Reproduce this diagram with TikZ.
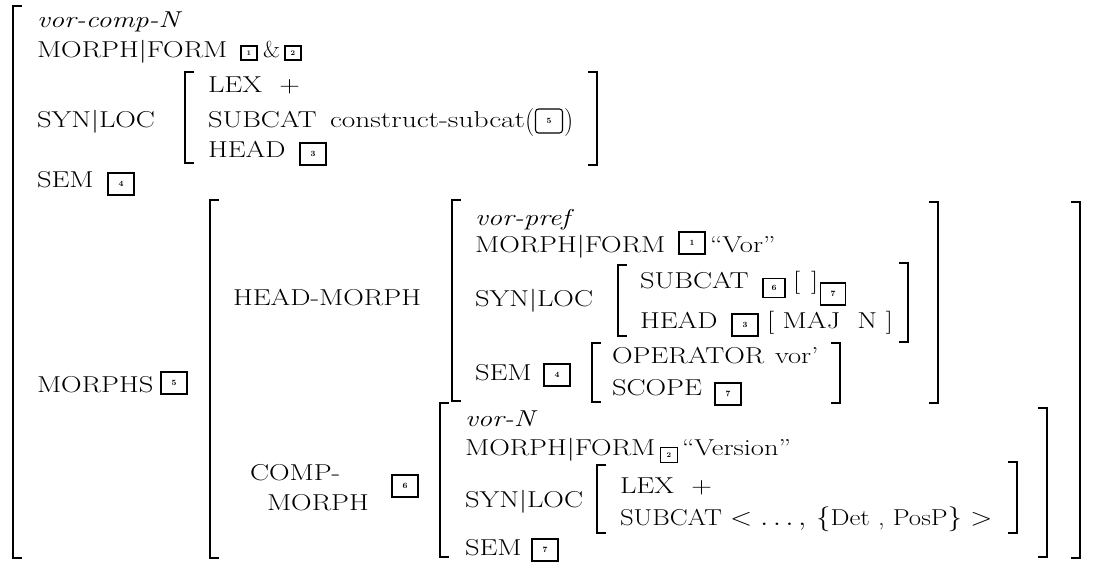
\documentclass[tikz,border=0pt]{standalone}
\usepackage{fontspec}
\begin{document}
\begin{tikzpicture}[x=1pt,y=-1pt,
  t/.style={anchor=base west,inner sep=0pt,outer sep=0pt,font=\fontsize{23}{27}\selectfont,xscale=1.24},
  it/.style={t,font=\fontsize{23}{27}\selectfont\itshape},
  cs/.style={t,xscale=1.03},
  bx/.style={draw,line width=1.1pt,inner sep=0pt,minimum width=26pt,minimum height=22pt,font=\fontsize{8}{8}\selectfont\bfseries},
  sbx/.style={bx,minimum width=16pt,minimum height=14pt,font=\fontsize{7}{7}\selectfont\bfseries},
  brk/.style={line width=1.6pt}]
\useasboundingbox (0,0) rectangle (1107,564);

% ---------- outer level ----------
\draw[brk] (22,6) -| (13,558) -- (22,558);
\node[it] (t1) at (37,28) {vor-comp-N};
\node[t] (t2) at (37,58) {MORPH|FORM};
\node[sbx] (b1a) at (249,53) {1};
\node[t,xscale=0.82] (amp) at (263,58) {\&};
\node[sbx] (b2a) at (293,53) {2};
\node[t] (t3) at (37,128) {SYN|LOC};
\draw[brk] (194,72) -| (185,163) -- (194,163);
\node[t] (lex1) at (208,93) {LEX\ \ +};
\node[t] (sub1) at (208,128) {SUBCAT};
\node[cs] (cons) at (330,128) {construct-subcat};
\node[t,font=\fontsize{28}{30}\selectfont,xscale=0.75] (lp) at (525,130) {(};
\node[bx,rounded corners=3pt,minimum width=27pt,minimum height=24pt] (b5a) at (549,121) {5};
\node[t,font=\fontsize{28}{30}\selectfont,xscale=0.75] (rp) at (564,130) {)};
\node[t] (head1) at (208,158) {HEAD};
\node[bx] (b3a) at (313,154) {3};
\draw[brk] (588,72) -| (597,165) -- (588,165);
\node[t] (sem1) at (37,187) {SEM};
\node[bx] (b4a) at (121,184) {4};
\node[t] (morphs) at (37,392) {MORPHS};
\node[bx] (b5b) at (174,383) {5};

% ---------- MORPHS value ----------
\draw[brk] (219,200) -| (210,558) -- (219,558);
\draw[brk] (1071,202) -| (1080,558) -- (1071,558);
\node[t] (hm) at (233,305) {HEAD-MORPH};

% HEAD-MORPH value
\draw[brk] (461,200) -| (452,401) -- (461,401);
\draw[brk] (929,202) -| (938,403) -- (929,403);
\node[it] (vp) at (475,225) {vor-pref};
\node[t] (mf2) at (475,252) {MORPH|FORM};
\node[bx] (b1b) at (692,243) {1};
\node[t] (vor) at (710,252) {``Vor''};
\node[t] (sl2) at (475,306) {SYN|LOC};
\draw[brk] (627,265) -| (618,336) -- (627,336);
\draw[brk] (899,263) -| (908,342) -- (899,342);
\node[t] (sub2) at (640,288) {SUBCAT};
\node[bx,minimum width=22pt,minimum height=19pt] (b6a) at (774,288) {6};
\node[t] (lb) at (793,288) {[};
\node[t] (rb) at (811,288) {]};
\node[bx,minimum width=25pt,minimum height=22pt] (b7a) at (833,294) {7};
\node[t] (head2) at (640,328) {HEAD};
\node[bx] (b3b) at (745,325) {3};
\node[t] (maj) at (767,328) {[ MAJ\ \ N ]};
\node[t] (sem2) at (475,380) {SEM};
\node[bx] (b4b) at (557,375) {4};
\draw[brk] (601,343) -| (592,402) -- (601,402);
\draw[brk] (831,343) -| (840,403) -- (831,403);
\node[t] (op) at (612,363) {OPERATOR};
\node[t] (vorp) at (775,363) {vor’};
\node[t] (sc) at (612,395) {SCOPE};
\node[bx] (b7b) at (728,394) {7};

% COMP-MORPH
\node[t] (cm1) at (250,480) {COMP-};
\node[t] (cm2) at (267,510) {MORPH};
\node[bx] (b6b) at (405,486) {6};
\draw[brk] (449,403) -| (440,557) -- (449,557);
\draw[brk] (1038,408) -| (1047,557) -- (1038,557);
\node[it] (vn) at (465,426) {vor-N};
\node[t] (mf3) at (465,455) {MORPH|FORM};
\node[sbx,minimum width=17pt,minimum height=15pt] (b2b) at (669,455) {2};
\node[t] (vers) at (682,455) {``Version''};
\node[t] (sl3) at (465,507) {SYN|LOC};
\draw[brk] (606,465) -| (597,533) -- (606,533);
\draw[brk] (1008,462) -| (1017,533) -- (1008,533);
\node[t] (lex3) at (620,493) {LEX\ \ +};
\node[t,xscale=0.94] (sub3) at (620,525) {SUBCAT $<\ldots,\,\{$Det , PosP$\}>$};
\node[t] (sem3) at (465,555) {SEM};
\node[bx] (b7c) at (545,550) {7};
\end{tikzpicture}
\end{document}
